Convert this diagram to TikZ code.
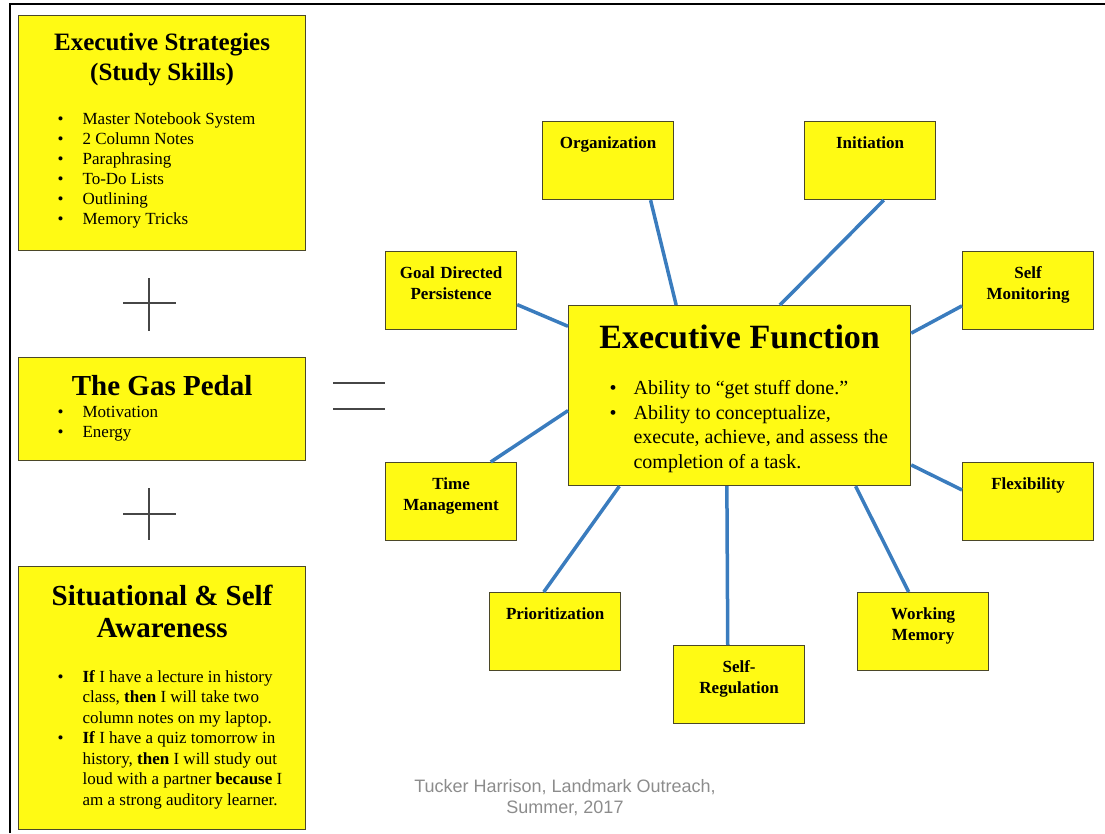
\documentclass[tikz,border=0pt]{standalone}
\usepackage{fontspec}
\setmainfont{Liberation Serif}
\setsansfont{Liberation Sans}

\definecolor{boxyellow}{RGB}{255,250,20}
\definecolor{boxline}{RGB}{75,72,40}
\definecolor{linkblue}{RGB}{58,124,190}
\definecolor{signgray}{RGB}{70,70,70}

% bullet list: #1 left margin, #2 gap between bullet and text
\newenvironment{blist}[2]{\begin{list}{\textbullet}{%
  \setlength{\leftmargin}{#1}\setlength{\labelwidth}{10pt}%
  \setlength{\labelsep}{#2}\setlength{\itemsep}{0pt}%
  \setlength{\parsep}{0pt}\setlength{\topsep}{0pt}%
  \setlength{\partopsep}{0pt}}}{\end{list}}
% word spaces from the font in force, not from the node font
\newcommand{\fontspaces}{\spaceskip=0pt\xspaceskip=0pt}

\begin{document}
\begin{tikzpicture}[x=1pt,y=-1pt,
    bigbox/.style={draw=boxline,fill=boxyellow,line width=1.2pt,
      anchor=north west,inner sep=0pt},
    smallbox/.style={draw=boxline,fill=boxyellow,line width=1.2pt,
      anchor=north west,inner sep=0pt,text width=131pt,align=center,
      text height=27pt,text depth=51pt,
      font=\bfseries\fontsize{17}{21}\selectfont},
    link/.style={draw=linkblue,line width=3.5pt},
    sign/.style={draw=signgray,line width=1.2pt}]
  \useasboundingbox (0,0) rectangle (1105,833);
  % page frame
  \draw[line width=2.5pt] (10,833) -- (10,4) -- (1105,4);

  % left column
  \node[bigbox,text width=287pt,text height=35pt,text depth=200pt] (strat) at (18,15) {%
    \fontspaces\centering\bfseries\fontsize{25}{30}\selectfont
    Executive Strategies\\(Study Skills)\par
    \vspace{24pt}\normalfont\fontsize{17}{20}\selectfont\raggedright\fontspaces
    \begin{blist}{64pt}{19pt}
      \item Master Notebook System
      \item 2 Column Notes
      \item Paraphrasing
      \item To-Do Lists
      \item Outlining
      \item Memory Tricks
    \end{blist}};
  \node[bigbox,text width=287pt,text height=38pt,text depth=65pt] (gas) at (18,357) {%
    \fontspaces\centering\bfseries\fontsize{29}{32}\selectfont
    The Gas Pedal\par
    \vspace{2pt}\normalfont\fontsize{17}{20}\selectfont\raggedright\fontspaces
    \begin{blist}{64pt}{19pt}
      \item Motivation
      \item Energy
    \end{blist}};
  \node[bigbox,text width=287pt,text height=39pt,text depth=224pt] (aware) at (18,566) {%
    \fontspaces\centering\bfseries\fontsize{29}{32}\selectfont
    Situational \& Self\\Awareness\par
    \vspace{24pt}\normalfont\fontsize{17}{20.5}\selectfont\raggedright\fontspaces
    \begin{blist}{64pt}{19pt}
      \item \textbf{If} I have a lecture in history\\class, \textbf{then} I will take two\\column notes on my laptop.
      \item \textbf{If} I have a quiz tomorrow in\\history, \textbf{then} I will study out\\loud with a partner \textbf{because} I\\am a strong auditory learner.
    \end{blist}};

  % plus, plus, equals
  \draw[sign] (123,303) -- (176,303) (149,278) -- (149,331);
  \draw[sign] (123,514) -- (176,514) (149,488) -- (149,540);
  \draw[sign] (333,383) -- (385,383) (333,409) -- (385,409);

  % centre box
  \node[bigbox,text width=342pt,text height=43pt,text depth=137pt] (ef) at (568,305) {%
    \fontspaces\centering\bfseries\fontsize{34}{38}\selectfont
    Executive Function\par
    \vspace{21pt}\normalfont\fontsize{20}{24.7}\selectfont\raggedright\fontspaces
    \begin{blist}{65pt}{17pt}
      \item Ability to ``get stuff done.''
      \item Ability to conceptualize,\\execute, achieve, and assess the\\completion of a task.
    \end{blist}};

  % the nine skills
  \node[smallbox] (org) at (542,121) {Organization};
  \node[smallbox] (init) at (804,121) {Initiation};
  \node[smallbox] (goal) at (385,251) {Goal Directed\\Persistence};
  \node[smallbox] (selfmon) at (962,251) {Self\\Monitoring};
  \node[smallbox] (time) at (385,462) {Time\\Management};
  \node[smallbox] (flex) at (962,462) {Flexibility};
  \node[smallbox] (prio) at (489,592) {Prioritization};
  \node[smallbox] (selfreg) at (673,645) {Self-\\Regulation};
  \node[smallbox] (wm) at (857,592) {Working\\Memory};

  % spokes
  \draw[link] (org.-43) -- (ef.125);
  \draw[link] (init.-71) -- (ef.66.6);
  \draw[link] (goal.-12) -- (ef.158.6);
  \draw[link] (selfmon.193) -- (ef.20.8);
  \draw[link] (time.45) -- (ef.185);
  \draw[link] (flex.170.5) -- (ef.-22.3);
  \draw[link] (prio.106.4) -- (ef.217.1);
  \draw[link] (selfreg.106.4) -- (ef.262.4);
  \draw[link] (wm.110.4) -- (ef.-38);

  \node[font=\sffamily\fontsize{18}{21}\selectfont,text=black!45,align=center]
    (credit) at (565,798) {Tucker Harrison, Landmark Outreach,\\Summer, 2017};
\end{tikzpicture}
\end{document}
